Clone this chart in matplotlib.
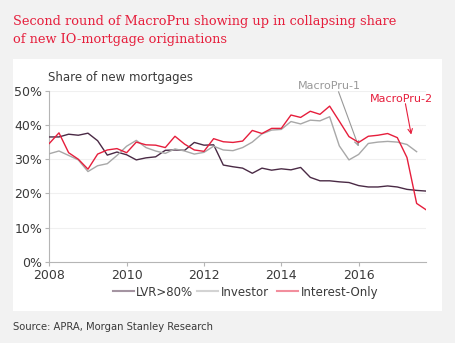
import matplotlib
matplotlib.use("Agg")
import matplotlib.pyplot as plt
from matplotlib.patches import Rectangle
from matplotlib.lines import Line2D
import numpy as np

# Quarterly data, 2008Q1 .. 2017Q4
start_year = 2008.0
lvr80 = [36.5, 36.5, 37.3, 37.0, 37.6, 35.4, 31.2, 32.1, 31.3, 29.8,
         30.4, 30.7, 32.6, 32.7, 32.6, 34.9, 34.1, 34.2, 28.3, 27.8,
         27.4, 25.9, 27.4, 26.8, 27.2, 26.9, 27.6, 24.7, 23.7, 23.7,
         23.4, 23.2, 22.3, 21.9, 21.9, 22.2, 21.9, 21.2, 20.9, 20.7]
investor = [31.6, 32.4, 31.1, 29.8, 26.4, 28.1, 28.7, 31.1, 33.8, 35.5,
            33.4, 32.4, 31.7, 33.0, 32.4, 31.5, 32.0, 33.8, 32.7, 32.5,
            33.4, 35.0, 37.4, 38.5, 38.7, 41.0, 40.3, 41.4, 41.2, 42.4,
            33.9, 29.8, 31.4, 34.6, 35.0, 35.2, 35.0, 34.3, 32.2, np.nan]
interest_only = [34.6, 37.7, 31.9, 30.0, 27.1, 31.5, 32.7, 33.1, 31.9, 35.0,
                 34.2, 34.1, 33.4, 36.7, 34.4, 32.7, 32.3, 36.0, 35.1, 34.9,
                 35.3, 38.4, 37.5, 39.0, 39.0, 42.9, 42.2, 44.0, 43.1, 45.5,
                 41.1, 36.6, 34.9, 36.7, 37.0, 37.5, 36.3, 30.5, 17.1, 15.2]
series_names = ["LVR>80%", "Investor", "Interest-Only"]
x_ticks = [2008, 2010, 2012, 2014, 2016]
y_ticks = [0, 10, 20, 30, 40, 50]

quarters = start_year + np.arange(len(lvr80)) * 0.25

RED = "#e61e3c"
PURPLE = "#4a2a45"
GREY = "#a8a8a8"
TXT = "#3a3a3a"
SANS = "DejaVu Sans"

fig = plt.figure(figsize=(4.56, 3.43), dpi=100, facecolor="#f2f2f2")
W, H = 456, 343

# white panel
fig.patches.append(Rectangle((13 / W, 1 - 310.5 / H), (442 - 13) / W, (310.5 - 59) / H,
                             transform=fig.transFigure, facecolor="white",
                             edgecolor="none", zorder=-5))

ax = fig.add_axes([49.3 / W, 1 - 262 / H, (426.3 - 49.3) / W, (262 - 90.7) / H])
ax.set_zorder(2)
ax.set_facecolor("none")

ax.plot(quarters, lvr80, color=PURPLE, lw=1.0, zorder=3)
ax.plot(quarters, investor, color=GREY, lw=1.0, zorder=3)
ax.plot(quarters, interest_only, color=RED, lw=1.0, zorder=4)

ax.set_xlim(2008, 2017.75)
ax.set_ylim(0, 50)
ax.set_xticks(x_ticks)
ax.set_xticklabels([str(t) for t in x_ticks])
ax.set_yticks(y_ticks)
ax.set_yticklabels([f"{t}%" for t in y_ticks])
for y in y_ticks[1:]:
    ax.axhline(y, color="#f0f0f0", lw=0.8, zorder=1)

for s in ["top", "right"]:
    ax.spines[s].set_visible(False)
for s in ["left", "bottom"]:
    ax.spines[s].set_color("#b5b5b5")
    ax.spines[s].set_linewidth(0.8)
ax.tick_params(axis="both", colors="#b5b5b5", labelcolor=TXT, labelsize=9,
               length=3, width=0.8, pad=2)
for lab in ax.get_xticklabels() + ax.get_yticklabels():
    lab.set_family(SANS)

ax.text(-0.003, 1.04, "Share of new mortgages", transform=ax.transAxes,
        fontsize=8.5, color=TXT, family=SANS, ha="left", va="bottom")

# annotations
ax.annotate("", xy=(2016.0, 33.7), xytext=(2015.48, 49.7),
            arrowprops=dict(arrowstyle="->", color="#999999", lw=0.8,
                            shrinkA=0, shrinkB=0, mutation_scale=8),
            annotation_clip=False)
ax.text(2015.25, 51.4, "MacroPru-1", color="#999999", fontsize=8, family=SANS,
        ha="center", va="center", clip_on=False)
ax.annotate("", xy=(2017.36, 37.2), xytext=(2017.21, 46.2),
            arrowprops=dict(arrowstyle="->", color=RED, lw=0.8,
                            shrinkA=0, shrinkB=0, mutation_scale=8),
            annotation_clip=False)
ax.text(2017.11, 47.7, "MacroPru-2", color=RED, fontsize=8, family=SANS,
        ha="center", va="center", clip_on=False)

# legend (manual, figure pixel coordinates)
leg_y = 1 - 291 / H
leg_items = [(PURPLE, 112.7, 134.3, 136), (GREY, 197, 218, 221), (RED, 276.7, 298.3, 301)]
for (col, x0, x1, xt), name in zip(leg_items, series_names):
    fig.add_artist(Line2D([x0 / W, x1 / W], [leg_y, leg_y], color=col, lw=1.5,
                          alpha=0.5, transform=fig.transFigure))
    fig.text(xt / W, leg_y, name, color=TXT, fontsize=8.5, family=SANS,
             ha="left", va="center_baseline")

# title
fig.text(13 / W, 1 - 21 / H, "Second round of MacroPru showing up in collapsing share",
         color=RED, fontsize=9.3, family="DejaVu Serif", ha="left", va="center")
fig.text(13 / W, 1 - 40 / H, "of new IO-mortgage originations",
         color=RED, fontsize=9.3, family="DejaVu Serif", ha="left", va="center")

fig.text(13 / W, 1 - 327 / H, "Source: APRA, Morgan Stanley Research",
         color=TXT, fontsize=7.2, family=SANS, ha="left", va="center")

fig.savefig("out.png", dpi=100, facecolor=fig.get_facecolor())
